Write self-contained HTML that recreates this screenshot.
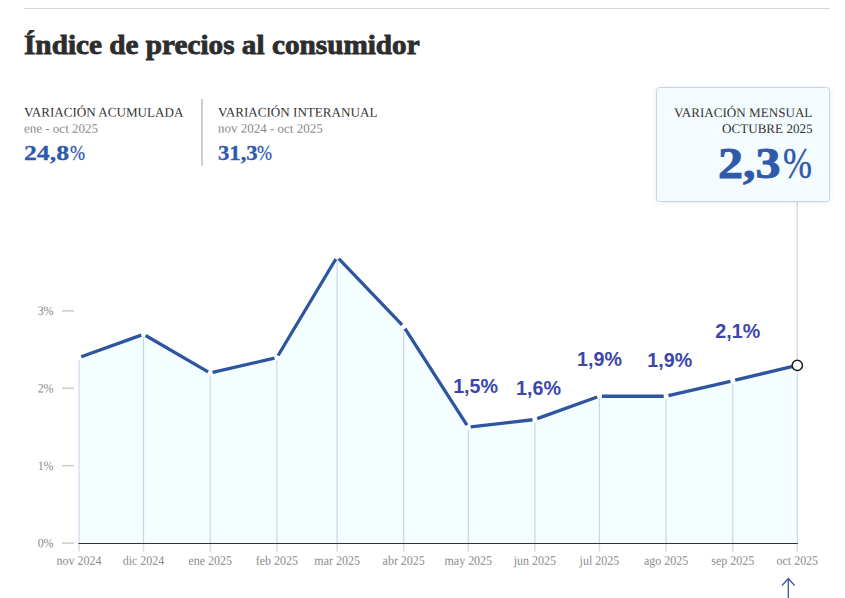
<!DOCTYPE html>
<html lang="es"><head><meta charset="utf-8"><title>Índice de precios al consumidor</title>
<style>
html,body{margin:0;padding:0;background:#fff;}
body{width:845px;height:598px;position:relative;overflow:hidden;font-family:"Liberation Serif",serif;color:#333;}
.rule{position:absolute;left:24px;top:8px;width:806px;height:1px;background:#d6d6d6;}
h1{position:absolute;left:24px;top:27.2px;margin:0;font-family:"Liberation Serif",serif;font-weight:bold;font-size:26.5px;line-height:34px;color:#2d2d2d;white-space:nowrap;transform:scale(1.103,1.035);transform-origin:0 0;-webkit-text-stroke:0.8px #2d2d2d;}
.st{position:absolute;top:104.8px;white-space:nowrap;}
.st .l{font-size:13.1px;line-height:15px;color:#333;transform:translateY(-0.4px) rotate(0.08deg);}
.st .s{font-size:13px;line-height:15px;color:#8a8a8a;margin-top:1px;transform:translateY(-0.3px) rotate(0.08deg);}
.st .v{font-size:22px;line-height:26px;font-weight:bold;color:#2f59aa;margin-top:4px;-webkit-text-stroke:0.3px #2f59aa;}
.v{position:relative;}
.dg{display:inline-block;transform-origin:0 50%;}
.pc{position:absolute;top:0;font-weight:normal;transform-origin:0 50%;}
.div{position:absolute;left:201px;top:99px;width:2px;height:67px;background:#cfcfcf;}
.box{position:absolute;left:656px;top:87px;width:172px;height:113px;border:1px solid #c8d4ea;border-radius:3.5px;background:#f5fcff;box-shadow:0 1px 6px rgba(0,0,0,0.08);}
.box div{position:absolute;right:16.6px;white-space:nowrap;text-align:right;}
.box div.v{right:auto;left:60.5px;text-align:left;}
.box .l1{top:17px;font-size:13.1px;line-height:15px;transform:rotate(0.08deg);}
.box .l2{top:32.5px;font-size:13.1px;line-height:15px;transform:rotate(0.08deg);}
.box .v{top:52.4px;font-size:44px;line-height:48px;font-weight:bold;color:#2f59aa;}
svg{position:absolute;left:0;top:0;}
.ax{font-family:"Liberation Serif",serif;font-size:12px;fill:#8a8a8a;}
.an{font-family:"Liberation Sans",sans-serif;font-weight:bold;font-size:20px;fill:#3b47ab;}
</style></head><body>
<div class="rule"></div>
<h1>Índice de precios al consumidor</h1>
<div class="st" style="left:24px"><div class="l">VARIACIÓN ACUMULADA</div><div class="s">ene - oct 2025</div><div class="v"><span class="dg" style="transform:scaleX(1.17)">24,8</span><span class="pc" style="left:45.5px;transform:scaleX(.82)">%</span></div></div>
<div class="div"></div>
<div class="st" style="left:218px"><div class="l">VARIACIÓN INTERANUAL</div><div class="s">nov 2024 - oct 2025</div><div class="v"><span class="dg" style="transform:scaleX(1.03)">31,3</span><span class="pc" style="left:39px;transform:scaleX(.82)">%</span></div></div>
<svg width="845" height="598" viewBox="0 0 845 598">
<path d="M79.0,543.3 L79.0,357.5 L143.5,334.3 L210.2,373.0 L276.9,357.5 L337.1,256.9 L403.7,326.6 L468.3,427.2 L534.9,419.5 L599.4,396.2 L666.1,396.2 L732.8,380.8 L797.3,365.3 L797.3,543.3 Z" fill="#f4fdff"/>
<line x1="79.0" y1="360.0" x2="79.0" y2="543.3" stroke="#cbd8ea" stroke-width="1.2"/>
<line x1="143.5" y1="336.8" x2="143.5" y2="543.3" stroke="#cbd8ea" stroke-width="1.2"/>
<line x1="210.2" y1="375.5" x2="210.2" y2="543.3" stroke="#cbd8ea" stroke-width="1.2"/>
<line x1="276.9" y1="360.0" x2="276.9" y2="543.3" stroke="#cbd8ea" stroke-width="1.2"/>
<line x1="337.1" y1="259.4" x2="337.1" y2="543.3" stroke="#cbd8ea" stroke-width="1.2"/>
<line x1="403.7" y1="329.1" x2="403.7" y2="543.3" stroke="#cbd8ea" stroke-width="1.2"/>
<line x1="468.3" y1="429.7" x2="468.3" y2="543.3" stroke="#cbd8ea" stroke-width="1.2"/>
<line x1="534.9" y1="422.0" x2="534.9" y2="543.3" stroke="#cbd8ea" stroke-width="1.2"/>
<line x1="599.4" y1="398.7" x2="599.4" y2="543.3" stroke="#cbd8ea" stroke-width="1.2"/>
<line x1="666.1" y1="398.7" x2="666.1" y2="543.3" stroke="#cbd8ea" stroke-width="1.2"/>
<line x1="732.8" y1="383.3" x2="732.8" y2="543.3" stroke="#cbd8ea" stroke-width="1.2"/>
<line x1="797.3" y1="367.8" x2="797.3" y2="543.3" stroke="#cbd8ea" stroke-width="1.2"/>
<line x1="797.3" y1="201" x2="797.3" y2="365.3" stroke="#cfd6ea" stroke-width="1.2"/>
<line x1="79.0" y1="543.3" x2="79.0" y2="551.5" stroke="#dcdcdc" stroke-width="1.5"/>
<line x1="143.5" y1="543.3" x2="143.5" y2="551.5" stroke="#dcdcdc" stroke-width="1.5"/>
<line x1="210.2" y1="543.3" x2="210.2" y2="551.5" stroke="#dcdcdc" stroke-width="1.5"/>
<line x1="276.9" y1="543.3" x2="276.9" y2="551.5" stroke="#dcdcdc" stroke-width="1.5"/>
<line x1="337.1" y1="543.3" x2="337.1" y2="551.5" stroke="#dcdcdc" stroke-width="1.5"/>
<line x1="403.7" y1="543.3" x2="403.7" y2="551.5" stroke="#dcdcdc" stroke-width="1.5"/>
<line x1="468.3" y1="543.3" x2="468.3" y2="551.5" stroke="#dcdcdc" stroke-width="1.5"/>
<line x1="534.9" y1="543.3" x2="534.9" y2="551.5" stroke="#dcdcdc" stroke-width="1.5"/>
<line x1="599.4" y1="543.3" x2="599.4" y2="551.5" stroke="#dcdcdc" stroke-width="1.5"/>
<line x1="666.1" y1="543.3" x2="666.1" y2="551.5" stroke="#dcdcdc" stroke-width="1.5"/>
<line x1="732.8" y1="543.3" x2="732.8" y2="551.5" stroke="#dcdcdc" stroke-width="1.5"/>
<line x1="797.3" y1="543.3" x2="797.3" y2="551.5" stroke="#dcdcdc" stroke-width="1.5"/>
<line x1="78.5" y1="543.5" x2="797.8" y2="543.5" stroke="#333" stroke-width="1"/>
<line x1="62" y1="543.1" x2="74" y2="543.1" stroke="#cfcfcf" stroke-width="1.6"/>
<text transform="translate(53.6,547.3) rotate(0.03) scale(1,1.08)" text-anchor="end" class="ax">0%</text>
<line x1="62" y1="465.7" x2="74" y2="465.7" stroke="#cfcfcf" stroke-width="1.6"/>
<text transform="translate(53.6,469.9) rotate(0.03) scale(1,1.08)" text-anchor="end" class="ax">1%</text>
<line x1="62" y1="388.3" x2="74" y2="388.3" stroke="#cfcfcf" stroke-width="1.6"/>
<text transform="translate(53.6,392.5) rotate(0.03) scale(1,1.08)" text-anchor="end" class="ax">2%</text>
<line x1="62" y1="310.9" x2="74" y2="310.9" stroke="#cfcfcf" stroke-width="1.6"/>
<text transform="translate(53.6,315.1) rotate(0.03) scale(1,1.08)" text-anchor="end" class="ax">3%</text>
<circle cx="79.0" cy="357.5" r="2.7" fill="#fff"/>
<circle cx="143.5" cy="334.3" r="2.7" fill="#fff"/>
<circle cx="210.2" cy="373.0" r="2.7" fill="#fff"/>
<circle cx="276.9" cy="357.5" r="2.7" fill="#fff"/>
<circle cx="337.1" cy="256.9" r="2.7" fill="#fff"/>
<circle cx="403.7" cy="326.6" r="2.7" fill="#fff"/>
<circle cx="468.3" cy="427.2" r="2.7" fill="#fff"/>
<circle cx="534.9" cy="419.5" r="2.7" fill="#fff"/>
<circle cx="599.4" cy="396.2" r="2.7" fill="#fff"/>
<circle cx="666.1" cy="396.2" r="2.7" fill="#fff"/>
<circle cx="732.8" cy="380.8" r="2.7" fill="#fff"/>
<path d="M81.26,356.73L141.26,335.13M145.59,335.52L208.11,371.82M212.52,372.48L274.52,358.08M278.09,355.48L335.84,258.98M338.73,258.65L402.08,324.85M405.04,328.60L466.96,425.18M470.64,426.92L532.54,419.74M537.19,418.65L597.19,397.05M601.84,396.24L663.71,396.24M668.45,395.70L730.44,381.30M735.12,380.20L794.97,365.84" fill="none" stroke="#2e55a0" stroke-width="3.3" stroke-linecap="butt"/>
<circle cx="797.3" cy="365.3" r="5.15" fill="#fff" stroke="#1a1a1a" stroke-width="1.5"/>
<text transform="translate(79.0,564.8) rotate(0.03) scale(1,1.08)" text-anchor="middle" class="ax">nov 2024</text>
<text transform="translate(143.5,564.8) rotate(0.03) scale(1,1.08)" text-anchor="middle" class="ax">dic 2024</text>
<text transform="translate(210.2,564.8) rotate(0.03) scale(1,1.08)" text-anchor="middle" class="ax">ene 2025</text>
<text transform="translate(276.9,564.8) rotate(0.03) scale(1,1.08)" text-anchor="middle" class="ax">feb 2025</text>
<text transform="translate(337.1,564.8) rotate(0.03) scale(1,1.08)" text-anchor="middle" class="ax">mar 2025</text>
<text transform="translate(403.7,564.8) rotate(0.03) scale(1,1.08)" text-anchor="middle" class="ax">abr 2025</text>
<text transform="translate(468.3,564.8) rotate(0.03) scale(1,1.08)" text-anchor="middle" class="ax">may 2025</text>
<text transform="translate(534.9,564.8) rotate(0.03) scale(1,1.08)" text-anchor="middle" class="ax">jun 2025</text>
<text transform="translate(599.4,564.8) rotate(0.03) scale(1,1.08)" text-anchor="middle" class="ax">jul 2025</text>
<text transform="translate(666.1,564.8) rotate(0.03) scale(1,1.08)" text-anchor="middle" class="ax">ago 2025</text>
<text transform="translate(732.8,564.8) rotate(0.03) scale(1,1.08)" text-anchor="middle" class="ax">sep 2025</text>
<text transform="translate(797.3,564.8) rotate(0.03) scale(1,1.08)" text-anchor="middle" class="ax">oct 2025</text>
<text transform="translate(475.6,393.2) scale(0.985,1.03)" text-anchor="middle" class="an">1,5%</text>
<text transform="translate(538.5,395.2) scale(0.985,1.03)" text-anchor="middle" class="an">1,6%</text>
<text transform="translate(599.5,366.3) scale(0.985,1.03)" text-anchor="middle" class="an">1,9%</text>
<text transform="translate(669.8,367.2) scale(0.985,1.03)" text-anchor="middle" class="an">1,9%</text>
<text transform="translate(737.7,337.7) scale(0.985,1.03)" text-anchor="middle" class="an">2,1%</text>
<path d="M788.3,598 V578.5 M782,585.5 L788.3,578.5 L794.6,585.5" fill="none" stroke="#3b5a9a" stroke-width="1.3"/>
</svg>
<div class="box"><div class="l1">VARIACIÓN MENSUAL</div><div class="l2">OCTUBRE 2025</div><div class="v"><span class="dg" style="transform:scaleX(1.14);-webkit-text-stroke:0.9px #2f59aa">2,3</span><span class="pc" style="left:65px;transform:scaleX(.79);-webkit-text-stroke:0.4px #2f59aa">%</span></div></div>
</body></html>
